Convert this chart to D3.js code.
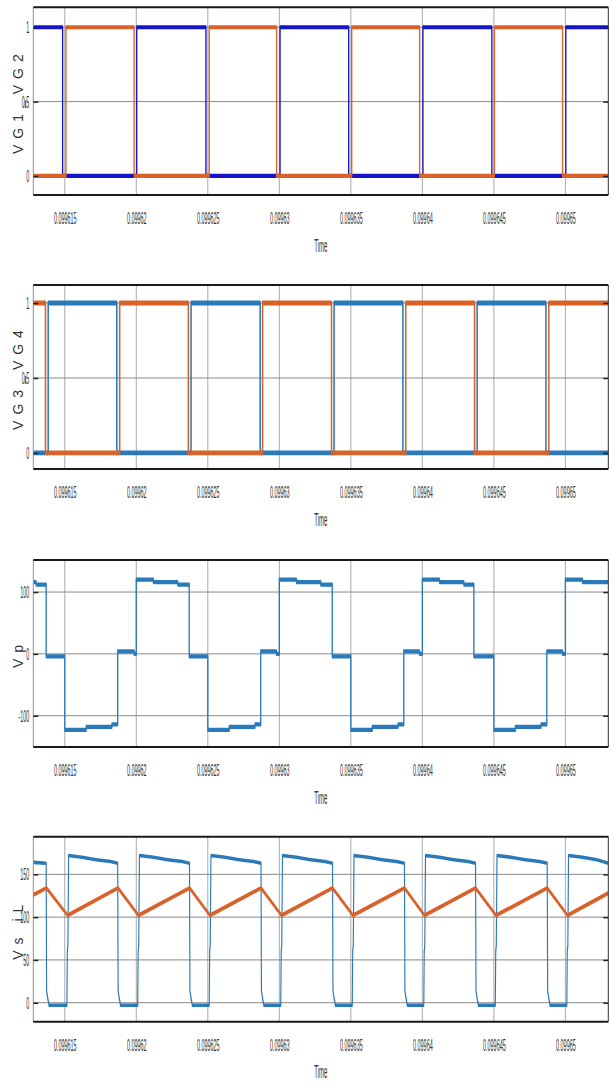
<!DOCTYPE html>
<html lang="en">
<head>
<meta charset="UTF-8">
<title>Gate signals, primary and secondary voltage</title>
<script src="https://d3js.org/d3.v7.min.js"></script>
<style>
  body { margin: 0; background: #fff; }
  svg { display: block; }
  text { font-family: "Liberation Sans", Arial, sans-serif; fill: #333; }
</style>
</head>
<body>
<svg id="chart" width="613" height="1084"></svg>
<script>
// time axis (seconds)
const timeTicks = ["0.099615", "0.09962", "0.099625", "0.09963", "0.099635", "0.09964", "0.099645", "0.09965"];
const timeStart = 0.0996128, timeEnd = 0.0996530;

// all series times below are in microseconds after 0.0996 s
// gate signals: switching times and the level held from that time on
const vg1Times = [12.8, 14.85, 20.03, 24.87, 30.05, 34.85, 40.04, 44.86, 50.03];
const vg1Vals  = [1, 0, 1, 0, 1, 0, 1, 0, 1];
const vg2Times = [12.8, 15.08, 19.85, 25.1, 29.81, 35.06, 39.81, 45.04, 49.8];
const vg2Vals  = [0, 1, 0, 1, 0, 1, 0, 1, 0];
const vg3Times = [12.8, 13.84, 18.64, 23.83, 28.66, 33.83, 38.64, 43.83, 48.64];
const vg3Vals  = [0, 1, 0, 1, 0, 1, 0, 1, 0];
const vg4Times = [12.8, 13.65, 18.84, 23.64, 28.83, 33.65, 38.84, 43.65, 48.84];
const vg4Vals  = [1, 0, 1, 0, 1, 0, 1, 0, 1];

// primary voltage Vp (stepped)
const vpTimes = [12.8, 13.0, 13.7, 15.0, 16.5, 18.3, 18.7, 19.85, 20.0, 21.2, 22.9, 23.7, 25.0, 26.5, 28.3, 28.7, 29.8,
                 30.0, 31.2, 32.9, 33.7, 35.0, 36.5, 38.3, 38.7, 39.8, 40.0, 41.2, 42.9, 43.6, 45.0, 46.5, 48.3, 48.7, 49.8,
                 50.0, 51.2];
const vpVals  = [116, 112, -4, -123, -118, -114, 4, 0, 120, 116, 112, -4, -123, -118, -114, 4, 0,
                 120, 116, 112, -4, -123, -118, -114, 4, 0, 120, 116, 112, -4, -123, -118, -114, 4, 0,
                 120, 116];

// secondary voltage Vs
const vsTimes = [12.8, 13.7, 13.73, 13.8, 13.9,
                 15.15, 15.18, 15.22, 15.27, 16.2, 17.2, 18.2, 18.7, 18.73, 18.8, 18.9,
                 20.1, 20.13, 20.17, 20.22, 21.2, 22.2, 23.2, 23.72, 23.75, 23.82, 23.92,
                 25.1, 25.13, 25.17, 25.22, 26.2, 27.2, 28.2, 28.72, 28.75, 28.82, 28.92,
                 30.1, 30.13, 30.17, 30.22, 31.2, 32.2, 33.2, 33.72, 33.75, 33.82, 33.92,
                 35.1, 35.13, 35.17, 35.22, 36.2, 37.2, 38.2, 38.75, 38.78, 38.85, 38.95,
                 40.1, 40.13, 40.17, 40.22, 41.2, 42.2, 43.2, 43.72, 43.75, 43.82, 43.92,
                 45.1, 45.13, 45.17, 45.22, 46.2, 47.2, 48.2, 48.73, 48.76, 48.83, 48.93,
                 50.1, 50.13, 50.17, 50.22, 51.2, 52.2, 53.0];
const vsVals  = [164, 163, 14, 6, -3,
                 -3, 60, 67, 172, 170, 167, 165, 163, 14, 6, -3,
                 -3, 60, 67, 172, 170, 167, 165, 163, 14, 6, -3,
                 -3, 60, 67, 172, 170, 167, 165, 163, 14, 6, -3,
                 -3, 60, 67, 172, 170, 167, 165, 163, 14, 6, -3,
                 -3, 60, 67, 172, 170, 167, 165, 163, 14, 6, -3,
                 -3, 60, 67, 172, 170, 167, 165, 163, 14, 6, -3,
                 -3, 60, 67, 172, 170, 167, 165, 163, 14, 6, -3,
                 -3, 60, 67, 172, 170, 167, 163];

// inductor current iL
const ilTimes = [12.8, 13.72, 15.2, 18.72, 20.15, 23.73, 25.15, 28.72, 30.15, 33.72, 35.15, 38.75, 40.15, 43.72, 45.15, 48.73, 50.15, 53.0];
const ilVals  = [126, 134, 102, 134, 102, 134, 102, 134, 102, 134, 102, 134, 102, 134, 102, 134, 102, 128];

const navy = "#1414c8", orange = "#d8622a", steel = "#2a7ab9";

const panels = [
  { top: 7.3, bottom: 195, yDomain: [-0.128, 1.134], yTicks: [0, 0.5, 1], yFmt: ["0", "0.5", "1"], label: "VG1_VG2",
    series: [{ t: vg1Times, v: vg1Vals, color: navy, width: 4.2, step: true },
             { t: vg2Times, v: vg2Vals, color: orange, width: 4.2, step: true }] },
  { top: 285, bottom: 469, yDomain: [-0.107, 1.12], yTicks: [0, 0.5, 1], yFmt: ["0", "0.5", "1"], label: "VG3_VG4",
    series: [{ t: vg3Times, v: vg3Vals, color: steel, width: 4.8, step: true },
             { t: vg4Times, v: vg4Vals, color: orange, width: 4.8, step: true }] },
  { top: 560, bottom: 747, yDomain: [-150.6, 151.8], yTicks: [-100, 0, 100], yFmt: ["-100", "0", "100"], label: "Vp",
    series: [{ t: vpTimes, v: vpVals, color: steel, width: 4.2, step: true }] },
  { top: 836.7, bottom: 1021.7, yDomain: [-22.2, 194], yTicks: [0, 50, 100, 150], yFmt: ["0", "50", "100", "150"], label: "Vs  iL",
    series: [{ t: vsTimes, v: vsVals, color: steel, width: 3.6, step: false },
             { t: ilTimes, v: ilVals, color: orange, width: 4.2, step: false }] }
];

const svg = d3.select("#chart");
const left = 33.3, right = 608.3;
const sx = 0.32;   // the whole figure was squeezed sideways

const x = d3.scaleLinear().domain([timeStart, timeEnd]).range([left, right]);
const xs = d3.scaleLinear().domain([timeStart, timeEnd]).range([left / sx, right / sx]);
const sec = us => 0.0996 + us * 1e-6;

function drawPanel(p) {
    const y = d3.scaleLinear().domain(p.yDomain).range([p.bottom, p.top]);
    const g = svg.append("g");

    // grid
    g.append("g").selectAll("line").data(timeTicks).join("line")
        .attr("x1", d => x(+d)).attr("x2", d => x(+d))
        .attr("y1", p.top).attr("y2", p.bottom)
        .attr("stroke", "#aaa").attr("stroke-width", 1);
    g.append("g").selectAll("line").data(p.yTicks).join("line")
        .attr("x1", left).attr("x2", right)
        .attr("y1", d => y(d)).attr("y2", d => y(d))
        .attr("stroke", "#8a8a8a").attr("stroke-width", 1);

    // traces, drawn in the squeezed frame so vertical edges come out thin
    const sg = g.append("g").attr("transform", "scale(" + sx + ",1)");
    p.series.forEach(s => {
        const pts = s.t.map((t, i) => [sec(t), s.v[i]]);
        const line = d3.line().x(d => xs(d[0])).y(d => y(d[1]));
        if (s.step) {
            pts.push([timeEnd, s.v[s.v.length - 1]]);
            line.curve(d3.curveStepAfter);
        }
        sg.append("path").datum(pts)
            .attr("d", line)
            .attr("fill", "none")
            .attr("stroke", s.color)
            .attr("stroke-width", s.width)
            .attr("stroke-linejoin", "round");
    });

    // frame
    g.append("line").attr("x1", left).attr("x2", left).attr("y1", p.top).attr("y2", p.bottom)
        .attr("stroke", "#8f8f8f").attr("stroke-width", 1);
    g.append("line").attr("x1", right).attr("x2", right).attr("y1", p.top).attr("y2", p.bottom)
        .attr("stroke", "#333").attr("stroke-width", 1);
    [p.top, p.bottom].forEach(v => {
        g.append("line").attr("x1", left).attr("x2", right).attr("y1", v).attr("y2", v)
            .attr("stroke", "#1a1a1a").attr("stroke-width", 2);
    });

    // y axis, ticks pointing inward
    const yAxis = g.append("g").attr("transform", "translate(" + left + ",0)")
        .call(d3.axisLeft(y).tickValues(p.yTicks).tickFormat((d, i) => p.yFmt[i]).tickSizeInner(-5).tickSizeOuter(0));
    yAxis.select(".domain").remove();
    yAxis.selectAll("line").attr("stroke", "#222").attr("stroke-width", 1.5);
    yAxis.selectAll("text")
        .attr("x", -4 / sx)
        .attr("transform", "scale(" + sx + ",1)")
        .style("font-size", "17px").attr("fill", "#333");

    const yRight = g.append("g").attr("transform", "translate(" + right + ",0)")
        .call(d3.axisRight(y).tickValues(p.yTicks).tickFormat("").tickSizeInner(-5).tickSizeOuter(0));
    yRight.select(".domain").remove();
    yRight.selectAll("line").attr("stroke", "#222").attr("stroke-width", 1.5);

    // x axis labels
    const xAxis = g.append("g").attr("transform", "translate(0," + p.bottom + ")")
        .call(d3.axisBottom(x).tickValues(timeTicks.map(Number)).tickFormat((d, i) => timeTicks[i]).tickSize(0));
    xAxis.select(".domain").remove();
    xAxis.selectAll("text")
        .attr("y", 23).attr("dy", "0.35em")
        .attr("transform", "scale(" + sx + ",1)")
        .style("font-size", "17px").attr("fill", "#333");

    g.append("text")
        .attr("transform", "translate(" + ((left + right) / 2) + "," + (p.bottom + 50) + ") scale(" + sx + ",1)")
        .attr("text-anchor", "middle").attr("dy", "0.35em")
        .style("font-size", "19px")
        .text("Time");

    g.append("text")
        .attr("transform", "translate(18," + ((p.top + p.bottom) / 2) + ") rotate(-90)")
        .attr("text-anchor", "middle").attr("dy", "0.35em")
        .style("font-size", "14px").style("letter-spacing", "6px")
        .text(p.label);
}

panels.forEach(drawPanel);
</script>
</body>
</html>
